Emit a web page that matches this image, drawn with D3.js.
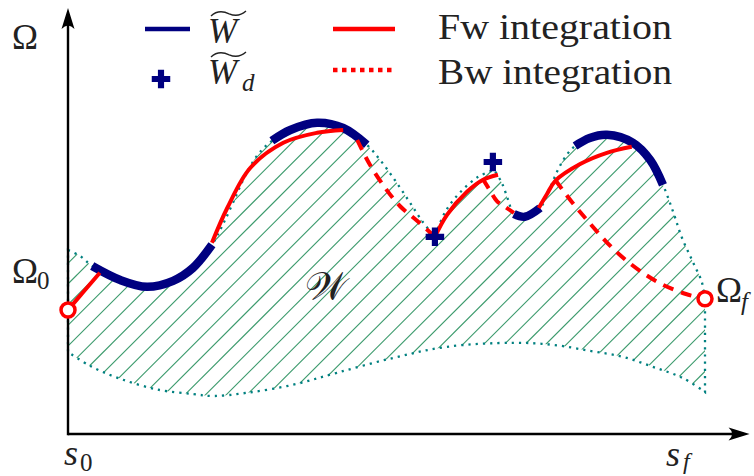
<!DOCTYPE html>
<html>
<head>
<meta charset="utf-8">
<script src="https://cdn.jsdelivr.net/npm/d3@7"></script>
<style>
  html, body { margin: 0; padding: 0; background: #fff; }
  svg { display: block; }
</style>
</head>
<body>
<svg id="chart" width="754" height="476"></svg>
<script>
// ---------- data (s along the path, Omega the state) ----------
const sDomain = [0, 10];            // s0 .. sf
const omegaDomain = [0, 10];
const sAxisEnd = 10.7;              // arrow tips of the two axes
const omegaAxisEnd = 10.65;

const omega0 = [0, 3.1];            // initial state
const omegaF = [10, 3.38];          // final state

// upper boundary of the admissible set W, split into pieces;
// the W~ arcs are the parts of it drawn as thick blue curves
const upperLead  = [[0, 4.6], [0.19, 4.45]];
const wArc1      = [[0.38, 4.2], [0.82, 3.85], [1.24, 3.68], [1.65, 3.83], [1.96, 4.15], [2.26, 4.73]];
const upperLink1 = [[2.42, 5.2], [2.59, 5.78], [2.78, 6.45], [2.98, 6.98]];
const wArc2      = [[3.20, 7.33], [3.49, 7.6], [3.91, 7.78], [4.32, 7.65], [4.69, 7.23]];
const upperLink2 = [[4.90, 6.85], [5.13, 6.35], [5.37, 5.78], [5.57, 5.3]];
const upperCusps = [[5.76, 4.93], [6.69, 6.6]];
const upperLink3 = [[5.92, 5.55], [6.15, 6.03], [6.44, 6.43]];
const upperLink4 = [[6.81, 6.28], [6.91, 5.85]];
const wArc3      = [[7.00, 5.5], [7.17, 5.43], [7.41, 5.65]];
const upperLink5 = [[7.54, 6.05], [7.69, 6.6], [7.83, 6.98]];
const wArc4      = [[7.96, 7.2], [8.19, 7.4], [8.46, 7.48], [8.87, 7.28], [9.14, 6.85], [9.34, 6.23]];
const upperLink6 = [[9.50, 5.55], [9.64, 4.9], [9.81, 4.3], [9.95, 3.8]];

// lower boundary of W
const lowerBound = [[0, 2.05], [0.35, 1.7], [0.82, 1.38], [1.44, 1.1], [1.96, 1.0], [2.28, 0.95],
  [2.81, 1.03], [3.53, 1.23], [4.22, 1.53], [5.10, 1.9], [5.95, 2.18], [6.99, 2.28],
  [7.61, 2.23], [8.19, 2.08], [8.71, 1.93], [9.18, 1.68], [9.65, 1.4], [10, 1.05]];

// W~_d points
const wdPoints = [[5.76, 4.93], [6.67, 6.8]];

// forward integration (solid)
const fw1 = [[0, 3.1], [0.25, 3.57], [0.5, 4.03]];
const fw2 = [[2.26, 4.78], [2.50, 5.65], [2.86, 6.65], [3.38, 7.28], [3.91, 7.53], [4.32, 7.6]];
const fw3 = [[5.76, 4.93], [5.95, 5.48], [6.26, 6.05], [6.51, 6.35], [6.75, 6.48]];
const fw4 = [[7.39, 5.65], [7.52, 6.0], [7.65, 6.33], [8.04, 6.75], [8.46, 7.03], [8.85, 7.18]];

// backward integration (dashed)
const bw1 = [[4.54, 7.35], [4.74, 6.73], [4.98, 6.15], [5.21, 5.7], [5.48, 5.33], [5.76, 4.93]];
const bw2 = [[6.51, 6.38], [6.62, 6.1], [6.73, 5.83], [6.86, 5.68], [7.0, 5.53]];
const bw3 = [[7.65, 6.35], [7.91, 5.8], [8.12, 5.4], [8.35, 4.98], [8.56, 4.63], [8.81, 4.28],
  [9.07, 3.98], [9.34, 3.73], [9.70, 3.5], [10, 3.38]];

const legendLabels = ["Fw integration", "Bw integration"];

// ---------- drawing ----------
const BLUE = "#000080", RED = "#ff0000", TEAL = "#008080", HATCH = "#3b9a6c", INK = "#222";
const SERIF = "'Liberation Serif', 'DejaVu Serif', serif";

const svg = d3.select("#chart");
const x = d3.scaleLinear().domain(sDomain).range([68, 705]);
const y = d3.scaleLinear().domain(omegaDomain).range([434, 34]);

const line = d3.line().x(d => x(d[0])).y(d => y(d[1])).curve(d3.curveCatmullRom.alpha(0.5));
const cont = p => p.replace(/^M/, "L");

// region W: three smooth pieces of the upper boundary meeting at two cusps
const pieceA = [...upperLead, ...wArc1, ...upperLink1, ...wArc2, ...upperLink2, upperCusps[0]];
const pieceB = [upperCusps[0], ...upperLink3, upperCusps[1]];
const pieceC = [upperCusps[1], ...upperLink4, ...wArc3, ...upperLink5, ...wArc4, ...upperLink6, omegaF];
const regionPath = line(pieceA) + cont(line(pieceB)) + cont(line(pieceC)) +
  cont(line(lowerBound.slice().reverse())) + "Z";

const defs = svg.append("defs");
defs.append("clipPath").attr("id", "regionClip").append("path").attr("d", regionPath);

// diagonal hatching
const hatchGap = 20.7;
svg.append("g").attr("clip-path", "url(#regionClip)")
  .selectAll("line")
  .data(d3.range(0, 1300, hatchGap))
  .join("line")
  .attr("x1", c => c - 500).attr("y1", 500)
  .attr("x2", c => c).attr("y2", 0)
  .attr("stroke", HATCH).attr("stroke-width", 1.1);

// dotted outline of W
svg.append("path").attr("d", regionPath)
  .attr("fill", "none").attr("stroke", TEAL)
  .attr("stroke-width", 2.3).attr("stroke-dasharray", "2.2,5");

// axes with arrow heads
const arrow = "M0,0 L-21,-6.5 Q-14,0 -21,6.5 Z";
svg.append("line")
  .attr("x1", x(0)).attr("y1", y(0)).attr("x2", x(sAxisEnd) - 6).attr("y2", y(0))
  .attr("stroke", "#000").attr("stroke-width", 2.4);
svg.append("line")
  .attr("x1", x(0)).attr("y1", y(0) + 1.2).attr("x2", x(0)).attr("y2", y(omegaAxisEnd) + 6)
  .attr("stroke", "#000").attr("stroke-width", 2.4);
svg.append("path").attr("d", arrow).attr("fill", "#000")
  .attr("transform", `translate(${x(sAxisEnd)},${y(0)})`);
svg.append("path").attr("d", arrow).attr("fill", "#000")
  .attr("transform", `translate(${x(0)},${y(omegaAxisEnd)}) rotate(-90)`);

// W~ arcs
svg.append("g").selectAll("path")
  .data([wArc1, wArc2, wArc3, wArc4])
  .join("path")
  .attr("d", line)
  .attr("fill", "none").attr("stroke", BLUE).attr("stroke-width", 8.5);

// forward integration
svg.append("g").selectAll("path")
  .data([fw1, fw2, fw3, fw4])
  .join("path")
  .attr("d", line)
  .attr("fill", "none").attr("stroke", RED).attr("stroke-width", 4);

// backward integration
svg.append("g").selectAll("path")
  .data([bw1, bw2, bw3])
  .join("path")
  .attr("d", line)
  .attr("fill", "none").attr("stroke", RED).attr("stroke-width", 4)
  .attr("stroke-dasharray", "11,8");

// W~_d markers
const cross = d3.symbol(d3.symbolCross).size(190);
svg.append("g").selectAll("path")
  .data(wdPoints)
  .join("path")
  .attr("d", cross)
  .attr("transform", d => `translate(${x(d[0])},${y(d[1])})`)
  .attr("fill", BLUE);

// boundary states
svg.append("g").selectAll("circle")
  .data([omega0, omegaF])
  .join("circle")
  .attr("cx", d => x(d[0])).attr("cy", d => y(d[1])).attr("r", 7)
  .attr("fill", "#fff").attr("stroke", RED).attr("stroke-width", 3.5);

// ---------- text ----------
function label(px, py, txt, size, italic, anchor) {
  return svg.append("text")
    .attr("x", px).attr("y", py)
    .attr("font-family", SERIF).attr("font-size", size)
    .attr("font-style", italic ? "italic" : "normal")
    .attr("text-anchor", anchor || "start")
    .attr("fill", INK).text(txt);
}
function tilde(px, py, w) {
  svg.append("path")
    .attr("d", `M${px},${py + 4} C${px + w * 0.18},${py - 2} ${px + w * 0.35},${py - 1} ${px + w * 0.52},${py + 1.8}` +
               ` C${px + w * 0.7},${py + 4.5} ${px + w * 0.84},${py + 4} ${px + w},${py - 1}`)
    .attr("fill", "none").attr("stroke", INK).attr("stroke-width", 1.4);
}

// axis names
label(12, 49, "Ω", 35, false);
label(12, 283, "Ω", 35, false);
label(37, 289, "0", 25, false);
label(716, 302, "Ω", 35, false);
label(741, 310, "f", 25, true);
label(64, 465, "s", 36, true);
label(80, 471, "0", 25, false);
label(666, 466, "s", 36, true);
label(683, 469, "f", 24, true);

// region name
label(305, 300, "𝒲", 40, false);

// legend
svg.append("line").attr("x1", 145).attr("x2", 190).attr("y1", 29).attr("y2", 29)
  .attr("stroke", BLUE).attr("stroke-width", 4.5);
label(208, 43, "W", 35, true);
tilde(211, 12, 35);
svg.append("path").attr("d", cross).attr("transform", "translate(161,79)").attr("fill", BLUE);
label(208, 84, "W", 35, true);
tilde(211, 53, 35);
label(242, 91, "d", 25, true);

svg.append("line").attr("x1", 333).attr("x2", 395).attr("y1", 29).attr("y2", 29)
  .attr("stroke", RED).attr("stroke-width", 4.5);
svg.append("line").attr("x1", 333).attr("x2", 395).attr("y1", 70).attr("y2", 70)
  .attr("stroke", RED).attr("stroke-width", 4.5).attr("stroke-dasharray", "4.5,4.5");
legendLabels.forEach((t, i) => {
  label(438, 39 + i * 45, t, 36, false).attr("textLength", 234).attr("lengthAdjust", "spacingAndGlyphs");
});
</script>
</body>
</html>
